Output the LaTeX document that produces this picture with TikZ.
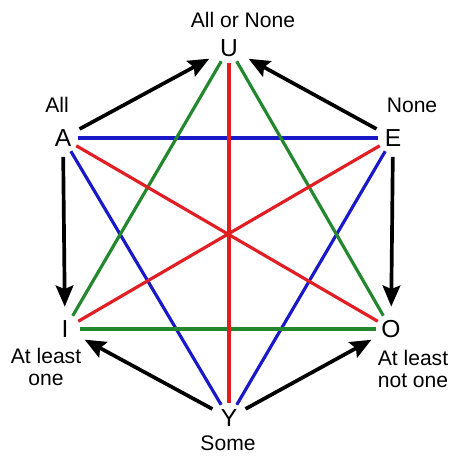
\documentclass[tikz,border=0pt]{standalone}
\usepackage{fontspec}
\setmainfont{Liberation Sans}
\usetikzlibrary{arrows.meta}
\definecolor{lineblue}{RGB}{25,25,200}
\definecolor{linered}{RGB}{225,30,35}
\definecolor{linegreen}{RGB}{35,135,45}
\tikzset{
	corner/.style={circle, minimum size=0.6cm, inner sep=0pt, font=\fontsize{14}{14}\selectfont},
	caption/.style={align=center, font=\fontsize{12}{12.5}\selectfont},
	edge/.style={line width=1.8pt},
	implies/.style={line width=2.1pt, -{Stealth[length=12pt,width=10pt,inset=2pt]}, shorten >=4pt, shorten <=2pt}
}
\begin{document}
\begin{tikzpicture}[x=0.02cm,y=-0.02cm]
			\useasboundingbox (0,0) rectangle (454,456);
			
			% corners of the hexagon
			\node[corner] (U) at (229,48) {U};
			\node[corner] (A) at (63,138) {A};
			\node[corner] (E) at (393,138) {E};
			\node[corner] (I) at (65,329) {I};
			\node[corner] (O) at (391,329) {O};
			\node[corner] (Y) at (229,418) {Y};
			
			% captions
			\node[caption] (cU) at (243,20) {All or None};
			\node[caption] (cA) at (57,105) {All};
			\node[caption] (cE) at (412,105) {None};
			\node[caption] (cI) at (46,367) {At least\\one};
			\node[caption] (cO) at (413,369) {At least\\not one};
			\node[caption] (cY) at (228,443) {Some};
			
			% triangle A E Y
			{
				\draw[edge, lineblue] (A) -- (E);
				\draw[edge, lineblue] (A) -- (Y);
				\draw[edge, lineblue] (E) -- (Y);
			}
			
			% triangle U I O
			{
				\draw[edge, linegreen] (U) -- (I);
				\draw[edge, linegreen] (U) -- (O);
				\draw[edge, linegreen] (I) -- (O);
			}
			
			% diagonals
			{
				\draw[edge, linered] (U) -- (Y);
				\draw[edge, linered] (A) -- (O);
				\draw[edge, linered] (E) -- (I);
			}
			
			% arrows round the outside
			\draw[implies] (A) -- (U);
			\draw[implies] (E) -- (U);
			\draw[implies] (A) -- (I);
			\draw[implies] (E) -- (O);
			\draw[implies] (Y) -- (I);
			\draw[implies] (Y) -- (O);
\end{tikzpicture}
\end{document}
